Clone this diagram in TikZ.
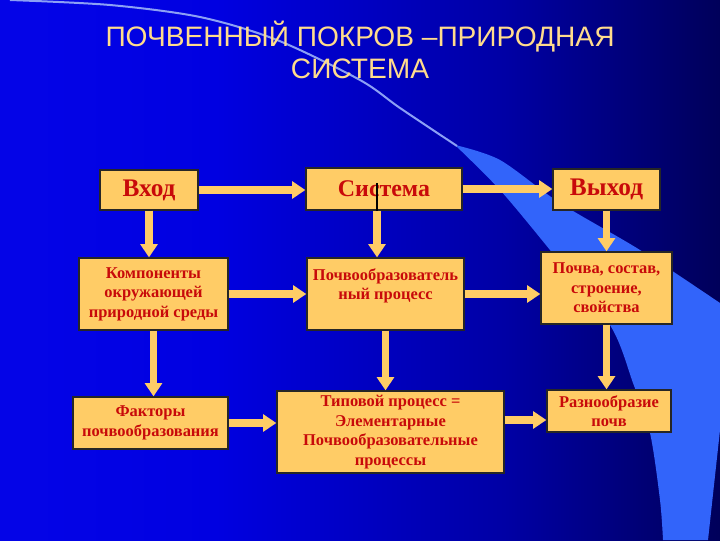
\documentclass[tikz,border=0pt]{standalone}
\usepackage{fontspec}
\setmainfont{Liberation Serif}
\newfontfamily\titlefont{Liberation Sans}
\usetikzlibrary{arrows.meta,calc}
\definecolor{boxfill}{RGB}{255,204,102}
\definecolor{boxtext}{RGB}{200,10,10}
\definecolor{titletext}{RGB}{255,220,140}
\definecolor{bandblue}{RGB}{50,100,250}
\definecolor{lineblue}{RGB}{140,160,245}
\definecolor{bgA}{RGB}{12,12,242}
\definecolor{bgB}{RGB}{0,0,225}
\definecolor{bgC}{RGB}{0,0,165}
\definecolor{bgD}{RGB}{0,0,90}
\definecolor{bgE}{RGB}{0,0,35}
\definecolor{bgF}{RGB}{0,0,4}
\pgfdeclarehorizontalshading{bgshade}{100bp}{color(0bp)=(bgA); color(40bp)=(bgB); color(60bp)=(bgC); color(75bp)=(bgD); color(86bp)=(bgE); color(96bp)=(bgF); color(100bp)=(bgF)}

\begin{document}
\begin{tikzpicture}[x=0.025cm, y=-0.025cm,
  box/.style={draw=black!85, line width=0.9pt, fill=boxfill, text=boxtext, align=center, inner sep=0pt,
    font=\fontsize{11.7}{13.8}\selectfont\bfseries},
  bigbox/.style={box, font=\fontsize{18}{20}\selectfont\bfseries},
  arr/.style={-{Triangle[width=0.42cm,length=0.33cm]}, line width=0.19cm, draw=boxfill}]
  \useasboundingbox (0,0) rectangle (720,540);
  \shade[shading=bgshade] (0,0) rectangle (720,540);
  \fill[bandblue] plot[smooth] coordinates {(455,145) (500,160) (560,203) (640,250) (720,303)}
    -- (720,430) -- (708,540) -- (663,540)
    -- plot[smooth] coordinates {(663,540) (660,500) (650,433) (633,383) (610,325) (550,250) (500,190) (455,145)} -- cycle;
  \draw[lineblue, line width=0.05cm] plot[smooth] coordinates {(10,0) (110,5) (200,17) (277,40) (360,80) (400,108) (457,146)};

  \node[text=titletext, font=\titlefont\fontsize{20}{22.7}\selectfont, align=center, inner sep=0pt, anchor=north]
    (title) at (360,21) {ПОЧВЕННЫЙ ПОКРОВ –ПРИРОДНАЯ\\СИСТЕМА};

  \node[bigbox, minimum width=2.45cm, minimum height=1cm] (vhod) at (149,190) {Вход};
  \node[bigbox, font=\fontsize{17}{20}\selectfont\bfseries, minimum width=3.9cm, minimum height=1.05cm] (sistema) at (384,189) {Система};
  \node[bigbox, minimum width=2.675cm, minimum height=1.025cm] (vyhod) at (606.5,189.5) {Выход};
  \node[box, minimum width=3.725cm, minimum height=1.8cm] (komp) at (153.5,294) {Компоненты\\окружающей\\природной среды};
  \node[box, minimum width=3.925cm, minimum height=1.8cm] (proc) at (385.5,294) {Почвообразователь\\ный процесс\\\mbox{}};
  \node[box, minimum width=3.275cm, minimum height=1.8cm] (pochva) at (606.5,288) {Почва, состав,\\строение,\\свойства};
  \node[box, minimum width=3.875cm, minimum height=1.3cm] (faktory) at (150.5,423) {Факторы\\почвообразования};
  \node[box, minimum width=5.675cm, minimum height=2.05cm] (tip) at (390.5,432) {Типовой процесс =\\Элементарные\\Почвообразовательные\\процессы};
  \node[box, minimum width=3.1cm, minimum height=1.05cm] (razn) at (609,411) {Разнообразие\\почв};
  \coordinate (sisout) at ($(sistema.south)+(-7,0)$);
  \coordinate (raznin) at ($(razn.west)+(0,9)$);

  \draw[arr] (vhod.east) -- (vhod.east -| sistema.west);
  \draw[arr] (sistema.east) -- (sistema.east -| vyhod.west);
  \draw[arr] (vhod.south) -- (vhod.south |- komp.north);
  \draw[arr] (sisout) -- (sisout |- proc.north);
  \draw[black, line width=0.8pt] (sisout) -- ++(0,-28);
  \draw[arr] (vyhod.south) -- (vyhod.south |- pochva.north);
  \draw[arr] (komp.east) -- (komp.east -| proc.west);
  \draw[arr] (proc.east) -- (proc.east -| pochva.west);
  \draw[arr] (komp.south) -- (komp.south |- faktory.north);
  \draw[arr] (proc.south) -- (proc.south |- tip.north);
  \draw[arr] (pochva.south) -- (pochva.south |- razn.north);
  \draw[arr] (faktory.east) -- (faktory.east -| tip.west);
  \draw[arr] (raznin -| tip.east) -- (raznin);
\end{tikzpicture}
\end{document}
